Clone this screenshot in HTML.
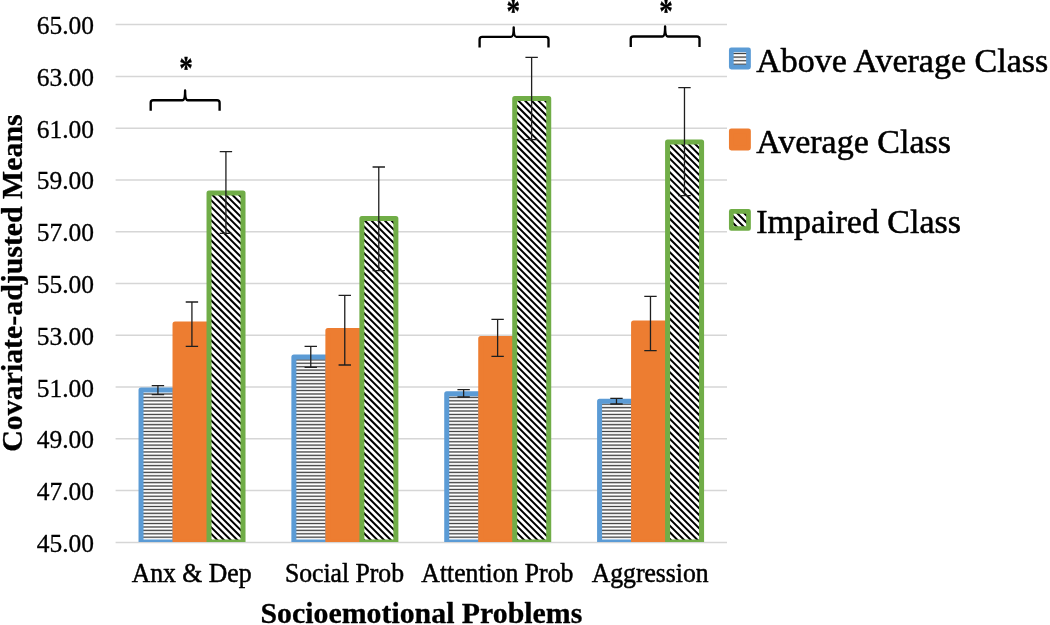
<!DOCTYPE html>
<html lang="en"><head><meta charset="utf-8"><title>Socioemotional Problems by Class</title>
<style>
html,body{margin:0;padding:0;background:#fff;}
body{width:1050px;height:625px;overflow:hidden;position:relative;}
svg{position:absolute;left:0;top:0;display:block;}
text{font-family:"Liberation Serif",serif;fill:#000;stroke:#000;stroke-width:0.3px;stroke-linejoin:round;}
.tick{font-size:25.5px;stroke-width:0.5px;}
.cat{font-size:25.7px;text-anchor:middle;stroke-width:0.5px;}
.ttl{font-size:29.85px;font-weight:bold;text-anchor:middle;}
.leg{font-size:34px;stroke-width:0.55px;}
.ast{font-size:28px;font-weight:bold;text-anchor:middle;}
.err{stroke:#1f1f1f;stroke-width:1.3;fill:none;}
.brace{stroke:#000;stroke-width:2.35;fill:none;stroke-linecap:butt;stroke-linejoin:round;}
.hz{stroke:#444;stroke-width:1;fill:none;}.hz2{stroke:#000;stroke-opacity:0.22;stroke-width:2.1;fill:none;}
.dg{stroke:#000;stroke-width:2;fill:none;}
</style></head><body>
<svg width="1050" height="625" viewBox="0 0 1050 625">
<defs>
<clipPath id="plot"><rect x="100" y="0" width="640" height="541.9"/></clipPath>
<clipPath id="c1"><rect x="141.02" y="390" width="34" height="152"/></clipPath>
<clipPath id="c2"><rect x="209.02" y="193.1" width="34" height="348.9"/></clipPath>
<clipPath id="c3"><rect x="293.88" y="357.1" width="34" height="184.9"/></clipPath>
<clipPath id="c4"><rect x="361.88" y="218.5" width="34" height="323.5"/></clipPath>
<clipPath id="c5"><rect x="446.73" y="393.7" width="34" height="148.3"/></clipPath>
<clipPath id="c6"><rect x="514.73" y="98.5" width="34" height="443.5"/></clipPath>
<clipPath id="c7"><rect x="599.58" y="401.3" width="34" height="140.7"/></clipPath>
<clipPath id="c8"><rect x="667.58" y="142.1" width="34" height="399.9"/></clipPath>
<clipPath id="c9"><rect x="731.3" y="211.3" width="17.2" height="17.2"/></clipPath>
</defs>
<rect width="1050" height="625" fill="#fff"/>
<g stroke="#D6D6D6" stroke-width="1.5">
<line x1="115.6" y1="24.6" x2="727" y2="24.6"/>
<line x1="115.6" y1="76.38" x2="727" y2="76.38"/>
<line x1="115.6" y1="128.16" x2="727" y2="128.16"/>
<line x1="115.6" y1="179.94" x2="727" y2="179.94"/>
<line x1="115.6" y1="231.72" x2="727" y2="231.72"/>
<line x1="115.6" y1="283.5" x2="727" y2="283.5"/>
<line x1="115.6" y1="335.28" x2="727" y2="335.28"/>
<line x1="115.6" y1="387.06" x2="727" y2="387.06"/>
<line x1="115.6" y1="438.84" x2="727" y2="438.84"/>
<line x1="115.6" y1="490.62" x2="727" y2="490.62"/>
<line x1="115.6" y1="542.4" x2="727" y2="542.4"/>
</g>
<g class="tick" text-anchor="end">
<text transform="translate(94 34.1) scale(1 1.025)">65.00</text>
<text transform="translate(94 85.88) scale(1 1.025)">63.00</text>
<text transform="translate(94 137.66) scale(1 1.025)">61.00</text>
<text transform="translate(94 189.44) scale(1 1.025)">59.00</text>
<text transform="translate(94 241.22) scale(1 1.025)">57.00</text>
<text transform="translate(94 293) scale(1 1.025)">55.00</text>
<text transform="translate(94 344.78) scale(1 1.025)">53.00</text>
<text transform="translate(94 396.56) scale(1 1.025)">51.00</text>
<text transform="translate(94 448.34) scale(1 1.025)">49.00</text>
<text transform="translate(94 500.12) scale(1 1.025)">47.00</text>
<text transform="translate(94 551.9) scale(1 1.025)">45.00</text>
</g>
<g clip-path="url(#plot)">
<g>
<rect x="141.02" y="390" width="34" height="152" fill="#fff"/>
<path class="hz2" d="M141.02 393.98H175.02M141.02 397.39H175.02M141.02 400.8H175.02M141.02 404.21H175.02M141.02 407.62H175.02M141.02 411.03H175.02M141.02 414.44H175.02M141.02 417.85H175.02M141.02 421.26H175.02M141.02 424.67H175.02M141.02 428.08H175.02M141.02 431.49H175.02M141.02 434.9H175.02M141.02 438.31H175.02M141.02 441.72H175.02M141.02 445.13H175.02M141.02 448.54H175.02M141.02 451.95H175.02M141.02 455.36H175.02M141.02 458.77H175.02M141.02 462.18H175.02M141.02 465.59H175.02M141.02 469H175.02M141.02 472.41H175.02M141.02 475.82H175.02M141.02 479.23H175.02M141.02 482.64H175.02M141.02 486.05H175.02M141.02 489.46H175.02M141.02 492.87H175.02M141.02 496.28H175.02M141.02 499.69H175.02M141.02 503.1H175.02M141.02 506.51H175.02M141.02 509.92H175.02M141.02 513.33H175.02M141.02 516.74H175.02M141.02 520.15H175.02M141.02 523.56H175.02M141.02 526.97H175.02M141.02 530.38H175.02M141.02 533.79H175.02M141.02 537.2H175.02"/>
<path class="hz" d="M141.02 393.98H175.02M141.02 397.39H175.02M141.02 400.8H175.02M141.02 404.21H175.02M141.02 407.62H175.02M141.02 411.03H175.02M141.02 414.44H175.02M141.02 417.85H175.02M141.02 421.26H175.02M141.02 424.67H175.02M141.02 428.08H175.02M141.02 431.49H175.02M141.02 434.9H175.02M141.02 438.31H175.02M141.02 441.72H175.02M141.02 445.13H175.02M141.02 448.54H175.02M141.02 451.95H175.02M141.02 455.36H175.02M141.02 458.77H175.02M141.02 462.18H175.02M141.02 465.59H175.02M141.02 469H175.02M141.02 472.41H175.02M141.02 475.82H175.02M141.02 479.23H175.02M141.02 482.64H175.02M141.02 486.05H175.02M141.02 489.46H175.02M141.02 492.87H175.02M141.02 496.28H175.02M141.02 499.69H175.02M141.02 503.1H175.02M141.02 506.51H175.02M141.02 509.92H175.02M141.02 513.33H175.02M141.02 516.74H175.02M141.02 520.15H175.02M141.02 523.56H175.02M141.02 526.97H175.02M141.02 530.38H175.02M141.02 533.79H175.02M141.02 537.2H175.02"/>
<rect x="141.02" y="390" width="34" height="152" fill="none" stroke="#5B9BD5" stroke-width="5" stroke-linejoin="round"/>
<rect x="175.02" y="324.1" width="34" height="217.9" fill="#ED7D31"/>
<rect x="175.02" y="324.1" width="34" height="217.9" fill="none" stroke="#ED7D31" stroke-width="5" stroke-linejoin="round"/>
<rect x="209.02" y="193.1" width="34" height="348.9" fill="#fff"/>
<path class="dg" clip-path="url(#c2)" d="M207.02 156.2L245.02 194.2M207.02 162.88L245.02 200.88M207.02 169.54L245.02 207.54M207.02 176.22L245.02 214.22M207.02 182.88L245.02 220.88M207.02 189.55L245.02 227.55M207.02 196.22L245.02 234.22M207.02 202.89L245.02 240.89M207.02 209.56L245.02 247.56M207.02 216.23L245.02 254.23M207.02 222.91L245.02 260.9M207.02 229.57L245.02 267.57M207.02 236.25L245.02 274.25M207.02 242.91L245.02 280.91M207.02 249.58L245.02 287.58M207.02 256.25L245.02 294.25M207.02 262.92L245.02 300.92M207.02 269.59L245.02 307.59M207.02 276.26L245.02 314.26M207.02 282.94L245.02 320.94M207.02 289.61L245.02 327.61M207.02 296.27L245.02 334.27M207.02 302.94L245.02 340.94M207.02 309.62L245.02 347.62M207.02 316.28L245.02 354.28M207.02 322.95L245.02 360.95M207.02 329.62L245.02 367.62M207.02 336.29L245.02 374.29M207.02 342.96L245.02 380.96M207.02 349.63L245.02 387.63M207.02 356.31L245.02 394.31M207.02 362.98L245.02 400.98M207.02 369.64L245.02 407.64M207.02 376.31L245.02 414.31M207.02 382.99L245.02 420.99M207.02 389.65L245.02 427.65M207.02 396.32L245.02 434.32M207.02 403L245.02 441M207.02 409.66L245.02 447.66M207.02 416.33L245.02 454.33M207.02 423L245.02 461M207.02 429.67L245.02 467.67M207.02 436.34L245.02 474.34M207.02 443.01L245.02 481.01M207.02 449.69L245.02 487.69M207.02 456.36L245.02 494.36M207.02 463.02L245.02 501.02M207.02 469.69L245.02 507.69M207.02 476.37L245.02 514.37M207.02 483.03L245.02 521.03M207.02 489.7L245.02 527.7M207.02 496.38L245.02 534.38M207.02 503.04L245.02 541.04M207.02 509.71L245.02 547.71M207.02 516.38L245.02 554.38M207.02 523.06L245.02 561.06M207.02 529.73L245.02 567.73M207.02 536.39L245.02 574.39M207.02 543.07L245.02 581.07"/>
<rect x="209.02" y="193.1" width="34" height="348.9" fill="none" stroke="#70AD47" stroke-width="5" stroke-linejoin="round"/>
</g>
<g>
<rect x="293.88" y="357.1" width="34" height="184.9" fill="#fff"/>
<path class="hz2" d="M293.88 359.88H327.88M293.88 363.29H327.88M293.88 366.7H327.88M293.88 370.11H327.88M293.88 373.52H327.88M293.88 376.93H327.88M293.88 380.34H327.88M293.88 383.75H327.88M293.88 387.16H327.88M293.88 390.57H327.88M293.88 393.98H327.88M293.88 397.39H327.88M293.88 400.8H327.88M293.88 404.21H327.88M293.88 407.62H327.88M293.88 411.03H327.88M293.88 414.44H327.88M293.88 417.85H327.88M293.88 421.26H327.88M293.88 424.67H327.88M293.88 428.08H327.88M293.88 431.49H327.88M293.88 434.9H327.88M293.88 438.31H327.88M293.88 441.72H327.88M293.88 445.13H327.88M293.88 448.54H327.88M293.88 451.95H327.88M293.88 455.36H327.88M293.88 458.77H327.88M293.88 462.18H327.88M293.88 465.59H327.88M293.88 469H327.88M293.88 472.41H327.88M293.88 475.82H327.88M293.88 479.23H327.88M293.88 482.64H327.88M293.88 486.05H327.88M293.88 489.46H327.88M293.88 492.87H327.88M293.88 496.28H327.88M293.88 499.69H327.88M293.88 503.1H327.88M293.88 506.51H327.88M293.88 509.92H327.88M293.88 513.33H327.88M293.88 516.74H327.88M293.88 520.15H327.88M293.88 523.56H327.88M293.88 526.97H327.88M293.88 530.38H327.88M293.88 533.79H327.88M293.88 537.2H327.88"/>
<path class="hz" d="M293.88 359.88H327.88M293.88 363.29H327.88M293.88 366.7H327.88M293.88 370.11H327.88M293.88 373.52H327.88M293.88 376.93H327.88M293.88 380.34H327.88M293.88 383.75H327.88M293.88 387.16H327.88M293.88 390.57H327.88M293.88 393.98H327.88M293.88 397.39H327.88M293.88 400.8H327.88M293.88 404.21H327.88M293.88 407.62H327.88M293.88 411.03H327.88M293.88 414.44H327.88M293.88 417.85H327.88M293.88 421.26H327.88M293.88 424.67H327.88M293.88 428.08H327.88M293.88 431.49H327.88M293.88 434.9H327.88M293.88 438.31H327.88M293.88 441.72H327.88M293.88 445.13H327.88M293.88 448.54H327.88M293.88 451.95H327.88M293.88 455.36H327.88M293.88 458.77H327.88M293.88 462.18H327.88M293.88 465.59H327.88M293.88 469H327.88M293.88 472.41H327.88M293.88 475.82H327.88M293.88 479.23H327.88M293.88 482.64H327.88M293.88 486.05H327.88M293.88 489.46H327.88M293.88 492.87H327.88M293.88 496.28H327.88M293.88 499.69H327.88M293.88 503.1H327.88M293.88 506.51H327.88M293.88 509.92H327.88M293.88 513.33H327.88M293.88 516.74H327.88M293.88 520.15H327.88M293.88 523.56H327.88M293.88 526.97H327.88M293.88 530.38H327.88M293.88 533.79H327.88M293.88 537.2H327.88"/>
<rect x="293.88" y="357.1" width="34" height="184.9" fill="none" stroke="#5B9BD5" stroke-width="5" stroke-linejoin="round"/>
<rect x="327.88" y="330.6" width="34" height="211.4" fill="#ED7D31"/>
<rect x="327.88" y="330.6" width="34" height="211.4" fill="none" stroke="#ED7D31" stroke-width="5" stroke-linejoin="round"/>
<rect x="361.88" y="218.5" width="34" height="323.5" fill="#fff"/>
<path class="dg" clip-path="url(#c4)" d="M359.88 182.32L397.88 220.32M359.88 189L397.88 227M359.88 195.67L397.88 233.67M359.88 202.34L397.88 240.34M359.88 209L397.88 247M359.88 215.68L397.88 253.68M359.88 222.35L397.88 260.35M359.88 229.02L397.88 267.02M359.88 235.69L397.88 273.69M359.88 242.36L397.88 280.36M359.88 249.03L397.88 287.03M359.88 255.69L397.88 293.69M359.88 262.37L397.88 300.37M359.88 269.04L397.88 307.04M359.88 275.71L397.88 313.71M359.88 282.38L397.88 320.38M359.88 289.05L397.88 327.05M359.88 295.72L397.88 333.72M359.88 302.38L397.88 340.38M359.88 309.06L397.88 347.06M359.88 315.73L397.88 353.73M359.88 322.39L397.88 360.39M359.88 329.07L397.88 367.07M359.88 335.74L397.88 373.74M359.88 342.4L397.88 380.4M359.88 349.08L397.88 387.08M359.88 355.75L397.88 393.75M359.88 362.42L397.88 400.42M359.88 369.09L397.88 407.09M359.88 375.75L397.88 413.75M359.88 382.43L397.88 420.43M359.88 389.1L397.88 427.1M359.88 395.76L397.88 433.76M359.88 402.44L397.88 440.44M359.88 409.11L397.88 447.11M359.88 415.77L397.88 453.77M359.88 422.44L397.88 460.44M359.88 429.12L397.88 467.12M359.88 435.79L397.88 473.79M359.88 442.46L397.88 480.46M359.88 449.12L397.88 487.12M359.88 455.8L397.88 493.8M359.88 462.47L397.88 500.47M359.88 469.13L397.88 507.13M359.88 475.81L397.88 513.81M359.88 482.48L397.88 520.48M359.88 489.14L397.88 527.14M359.88 495.81L397.88 533.82M359.88 502.49L397.88 540.49M359.88 509.16L397.88 547.15M359.88 515.83L397.88 553.83M359.88 522.5L397.88 560.5M359.88 529.16L397.88 567.16M359.88 535.84L397.88 573.84M359.88 542.5L397.88 580.5"/>
<rect x="361.88" y="218.5" width="34" height="323.5" fill="none" stroke="#70AD47" stroke-width="5" stroke-linejoin="round"/>
</g>
<g>
<rect x="446.73" y="393.7" width="34" height="148.3" fill="#fff"/>
<path class="hz2" d="M446.73 397.39H480.73M446.73 400.8H480.73M446.73 404.21H480.73M446.73 407.62H480.73M446.73 411.03H480.73M446.73 414.44H480.73M446.73 417.85H480.73M446.73 421.26H480.73M446.73 424.67H480.73M446.73 428.08H480.73M446.73 431.49H480.73M446.73 434.9H480.73M446.73 438.31H480.73M446.73 441.72H480.73M446.73 445.13H480.73M446.73 448.54H480.73M446.73 451.95H480.73M446.73 455.36H480.73M446.73 458.77H480.73M446.73 462.18H480.73M446.73 465.59H480.73M446.73 469H480.73M446.73 472.41H480.73M446.73 475.82H480.73M446.73 479.23H480.73M446.73 482.64H480.73M446.73 486.05H480.73M446.73 489.46H480.73M446.73 492.87H480.73M446.73 496.28H480.73M446.73 499.69H480.73M446.73 503.1H480.73M446.73 506.51H480.73M446.73 509.92H480.73M446.73 513.33H480.73M446.73 516.74H480.73M446.73 520.15H480.73M446.73 523.56H480.73M446.73 526.97H480.73M446.73 530.38H480.73M446.73 533.79H480.73M446.73 537.2H480.73"/>
<path class="hz" d="M446.73 397.39H480.73M446.73 400.8H480.73M446.73 404.21H480.73M446.73 407.62H480.73M446.73 411.03H480.73M446.73 414.44H480.73M446.73 417.85H480.73M446.73 421.26H480.73M446.73 424.67H480.73M446.73 428.08H480.73M446.73 431.49H480.73M446.73 434.9H480.73M446.73 438.31H480.73M446.73 441.72H480.73M446.73 445.13H480.73M446.73 448.54H480.73M446.73 451.95H480.73M446.73 455.36H480.73M446.73 458.77H480.73M446.73 462.18H480.73M446.73 465.59H480.73M446.73 469H480.73M446.73 472.41H480.73M446.73 475.82H480.73M446.73 479.23H480.73M446.73 482.64H480.73M446.73 486.05H480.73M446.73 489.46H480.73M446.73 492.87H480.73M446.73 496.28H480.73M446.73 499.69H480.73M446.73 503.1H480.73M446.73 506.51H480.73M446.73 509.92H480.73M446.73 513.33H480.73M446.73 516.74H480.73M446.73 520.15H480.73M446.73 523.56H480.73M446.73 526.97H480.73M446.73 530.38H480.73M446.73 533.79H480.73M446.73 537.2H480.73"/>
<rect x="446.73" y="393.7" width="34" height="148.3" fill="none" stroke="#5B9BD5" stroke-width="5" stroke-linejoin="round"/>
<rect x="480.73" y="338.4" width="34" height="203.6" fill="#ED7D31"/>
<rect x="480.73" y="338.4" width="34" height="203.6" fill="none" stroke="#ED7D31" stroke-width="5" stroke-linejoin="round"/>
<rect x="514.73" y="98.5" width="34" height="443.5" fill="#fff"/>
<path class="dg" clip-path="url(#c6)" d="M512.73 61.71L550.73 99.71M512.73 68.38L550.73 106.38M512.73 75.05L550.73 113.05M512.73 81.72L550.73 119.72M512.73 88.39L550.73 126.39M512.73 95.06L550.73 133.06M512.73 101.73L550.73 139.73M512.73 108.4L550.73 146.4M512.73 115.06L550.73 153.06M512.73 121.74L550.73 159.74M512.73 128.41L550.73 166.41M512.73 135.07L550.73 173.07M512.73 141.75L550.73 179.75M512.73 148.42L550.73 186.42M512.73 155.09L550.73 193.09M512.73 161.76L550.73 199.76M512.73 168.43L550.73 206.43M512.73 175.1L550.73 213.1M512.73 181.77L550.73 219.77M512.73 188.44L550.73 226.44M512.73 195.11L550.73 233.11M512.73 201.78L550.73 239.78M512.73 208.45L550.73 246.45M512.73 215.12L550.73 253.12M512.73 221.79L550.73 259.79M512.73 228.46L550.73 266.46M512.73 235.13L550.73 273.13M512.73 241.8L550.73 279.8M512.73 248.47L550.73 286.47M512.73 255.14L550.73 293.14M512.73 261.81L550.73 299.81M512.73 268.48L550.73 306.48M512.73 275.15L550.73 313.15M512.73 281.82L550.73 319.82M512.73 288.49L550.73 326.49M512.73 295.16L550.73 333.16M512.73 301.83L550.73 339.83M512.73 308.5L550.73 346.5M512.73 315.17L550.73 353.17M512.73 321.84L550.73 359.84M512.73 328.51L550.73 366.51M512.73 335.18L550.73 373.18M512.73 341.85L550.73 379.85M512.73 348.52L550.73 386.52M512.73 355.19L550.73 393.19M512.73 361.86L550.73 399.86M512.73 368.53L550.73 406.53M512.73 375.2L550.73 413.2M512.73 381.87L550.73 419.87M512.73 388.54L550.73 426.54M512.73 395.21L550.73 433.21M512.73 401.88L550.73 439.88M512.73 408.55L550.73 446.55M512.73 415.22L550.73 453.22M512.73 421.89L550.73 459.89M512.73 428.56L550.73 466.56M512.73 435.23L550.73 473.23M512.73 441.9L550.73 479.9M512.73 448.57L550.73 486.57M512.73 455.24L550.73 493.24M512.73 461.91L550.73 499.91M512.73 468.58L550.73 506.58M512.73 475.25L550.73 513.25M512.73 481.92L550.73 519.92M512.73 488.59L550.73 526.59M512.73 495.25L550.73 533.25M512.73 501.93L550.73 539.93M512.73 508.6L550.73 546.6M512.73 515.27L550.73 553.27M512.73 521.94L550.73 559.94M512.73 528.61L550.73 566.61M512.73 535.28L550.73 573.28M512.73 541.95L550.73 579.95"/>
<rect x="514.73" y="98.5" width="34" height="443.5" fill="none" stroke="#70AD47" stroke-width="5" stroke-linejoin="round"/>
</g>
<g>
<rect x="599.58" y="401.3" width="34" height="140.7" fill="#fff"/>
<path class="hz2" d="M599.58 404.21H633.58M599.58 407.62H633.58M599.58 411.03H633.58M599.58 414.44H633.58M599.58 417.85H633.58M599.58 421.26H633.58M599.58 424.67H633.58M599.58 428.08H633.58M599.58 431.49H633.58M599.58 434.9H633.58M599.58 438.31H633.58M599.58 441.72H633.58M599.58 445.13H633.58M599.58 448.54H633.58M599.58 451.95H633.58M599.58 455.36H633.58M599.58 458.77H633.58M599.58 462.18H633.58M599.58 465.59H633.58M599.58 469H633.58M599.58 472.41H633.58M599.58 475.82H633.58M599.58 479.23H633.58M599.58 482.64H633.58M599.58 486.05H633.58M599.58 489.46H633.58M599.58 492.87H633.58M599.58 496.28H633.58M599.58 499.69H633.58M599.58 503.1H633.58M599.58 506.51H633.58M599.58 509.92H633.58M599.58 513.33H633.58M599.58 516.74H633.58M599.58 520.15H633.58M599.58 523.56H633.58M599.58 526.97H633.58M599.58 530.38H633.58M599.58 533.79H633.58M599.58 537.2H633.58"/>
<path class="hz" d="M599.58 404.21H633.58M599.58 407.62H633.58M599.58 411.03H633.58M599.58 414.44H633.58M599.58 417.85H633.58M599.58 421.26H633.58M599.58 424.67H633.58M599.58 428.08H633.58M599.58 431.49H633.58M599.58 434.9H633.58M599.58 438.31H633.58M599.58 441.72H633.58M599.58 445.13H633.58M599.58 448.54H633.58M599.58 451.95H633.58M599.58 455.36H633.58M599.58 458.77H633.58M599.58 462.18H633.58M599.58 465.59H633.58M599.58 469H633.58M599.58 472.41H633.58M599.58 475.82H633.58M599.58 479.23H633.58M599.58 482.64H633.58M599.58 486.05H633.58M599.58 489.46H633.58M599.58 492.87H633.58M599.58 496.28H633.58M599.58 499.69H633.58M599.58 503.1H633.58M599.58 506.51H633.58M599.58 509.92H633.58M599.58 513.33H633.58M599.58 516.74H633.58M599.58 520.15H633.58M599.58 523.56H633.58M599.58 526.97H633.58M599.58 530.38H633.58M599.58 533.79H633.58M599.58 537.2H633.58"/>
<rect x="599.58" y="401.3" width="34" height="140.7" fill="none" stroke="#5B9BD5" stroke-width="5" stroke-linejoin="round"/>
<rect x="633.58" y="323.1" width="34" height="218.9" fill="#ED7D31"/>
<rect x="633.58" y="323.1" width="34" height="218.9" fill="none" stroke="#ED7D31" stroke-width="5" stroke-linejoin="round"/>
<rect x="667.58" y="142.1" width="34" height="399.9" fill="#fff"/>
<path class="dg" clip-path="url(#c8)" d="M665.58 101.16L703.58 139.16M665.58 107.84L703.58 145.84M665.58 114.51L703.58 152.51M665.58 121.17L703.58 159.17M665.58 127.85L703.58 165.85M665.58 134.52L703.58 172.52M665.58 141.19L703.58 179.19M665.58 147.86L703.58 185.86M665.58 154.53L703.58 192.53M665.58 161.2L703.58 199.2M665.58 167.87L703.58 205.87M665.58 174.54L703.58 212.54M665.58 181.21L703.58 219.21M665.58 187.88L703.58 225.88M665.58 194.55L703.58 232.55M665.58 201.22L703.58 239.22M665.58 207.89L703.58 245.89M665.58 214.56L703.58 252.56M665.58 221.23L703.58 259.23M665.58 227.9L703.58 265.9M665.58 234.57L703.58 272.57M665.58 241.24L703.58 279.24M665.58 247.91L703.58 285.91M665.58 254.58L703.58 292.58M665.58 261.25L703.58 299.25M665.58 267.92L703.58 305.92M665.58 274.59L703.58 312.59M665.58 281.26L703.58 319.26M665.58 287.93L703.58 325.93M665.58 294.6L703.58 332.6M665.58 301.27L703.58 339.27M665.58 307.94L703.58 345.94M665.58 314.61L703.58 352.61M665.58 321.28L703.58 359.28M665.58 327.95L703.58 365.95M665.58 334.62L703.58 372.62M665.58 341.29L703.58 379.29M665.58 347.96L703.58 385.96M665.58 354.63L703.58 392.63M665.58 361.3L703.58 399.3M665.58 367.97L703.58 405.97M665.58 374.64L703.58 412.64M665.58 381.31L703.58 419.31M665.58 387.98L703.58 425.98M665.58 394.65L703.58 432.65M665.58 401.32L703.58 439.32M665.58 407.99L703.58 445.99M665.58 414.66L703.58 452.66M665.58 421.33L703.58 459.33M665.58 428L703.58 466M665.58 434.67L703.58 472.67M665.58 441.34L703.58 479.34M665.58 448.01L703.58 486.01M665.58 454.68L703.58 492.68M665.58 461.35L703.58 499.35M665.58 468.02L703.58 506.02M665.58 474.69L703.58 512.69M665.58 481.36L703.58 519.36M665.58 488.03L703.58 526.03M665.58 494.7L703.58 532.7M665.58 501.37L703.58 539.37M665.58 508.04L703.58 546.04M665.58 514.71L703.58 552.71M665.58 521.38L703.58 559.38M665.58 528.05L703.58 566.05M665.58 534.72L703.58 572.72M665.58 541.38L703.58 579.38"/>
<rect x="667.58" y="142.1" width="34" height="399.9" fill="none" stroke="#70AD47" stroke-width="5" stroke-linejoin="round"/>
</g>
</g>
<g class="err">
<path d="M151.72 385.6H164.12M157.92 385.6V394.7M151.72 394.7H164.12"/>
<path d="M185.72 302H198.12M191.92 302V346.4M185.72 346.4H198.12"/>
<path d="M219.72 151.6H232.12M225.92 151.6V233.4M219.72 233.4H232.12"/>
<path d="M304.57 346.4H316.97M310.77 346.4V367.4M304.57 367.4H316.97"/>
<path d="M338.57 295.4H350.97M344.77 295.4V365M338.57 365H350.97"/>
<path d="M372.57 167H384.97M378.77 167V270.6M372.57 270.6H384.97"/>
<path d="M457.43 389.6H469.82M463.62 389.6V397M457.43 397H469.82"/>
<path d="M491.43 319.4H503.82M497.62 319.4V356.4M491.43 356.4H503.82"/>
<path d="M525.42 57.4H537.83M531.62 57.4V139.7M525.42 139.7H537.83"/>
<path d="M610.27 398.4H622.68M616.48 398.4V404M610.27 404H622.68"/>
<path d="M644.27 296.4H656.68M650.48 296.4V350.6M644.27 350.6H656.68"/>
<path d="M678.27 87.6H690.68M684.48 87.6V195.6M678.27 195.6H690.68"/>
</g>
<path class="brace" d="M150.7 110.7 V102.8 Q150.7 100.2 153.3 100.2 H182.5 Q185.1 100.2 185.1 90.4 Q185.1 100.2 187.7 100.2 H217 Q219.6 100.2 219.6 102.8 V110.7"/>
<path class="brace" d="M479.6 47.5 V39.5 Q479.6 36.9 482.2 36.9 H511.1 Q513.7 36.9 513.7 27.3 Q513.7 36.9 516.3 36.9 H545.9 Q548.5 36.9 548.5 39.5 V47.5"/>
<path class="brace" d="M630.75 47 V39.1 Q630.75 36.5 633.35 36.5 H662.5 Q665.1 36.5 665.1 26.3 Q665.1 36.5 667.7 36.5 H696.9 Q699.5 36.5 699.5 39.1 V47"/>
<text class="ast" transform="translate(185.8 63.35) scale(0.97 1.2)" x="0.3" y="12.95">*</text>
<text class="ast" transform="translate(512.9 6.25) scale(0.97 1.2)" x="0.3" y="12.95">*</text>
<text class="ast" transform="translate(665.8 6.25) scale(0.97 1.2)" x="0.3" y="12.95">*</text>
<text class="cat" transform="translate(191.62 581.7) scale(1 1.025)">Anx &amp; Dep</text>
<text class="cat" transform="translate(344.48 581.7) scale(1 1.025)">Social Prob</text>
<text class="cat" transform="translate(497.33 581.7) scale(1 1.025)">Attention Prob</text>
<text class="cat" transform="translate(650.18 581.7) scale(1 1.025)">Aggression</text>
<text class="ttl" transform="translate(421.4 623.1) scale(1 1.01)">Socioemotional Problems</text>
<text class="ttl" transform="translate(21.8 283) rotate(-90) scale(1 1.0)">Covariate-adjusted Means</text>
<rect x="731.3" y="49.9" width="17.2" height="17.2" fill="#fff"/>
<path class="hz2" d="M731.3 53.5H748.5M731.3 57.1H748.5M731.3 60.7H748.5M731.3 64.3H748.5"/>
<path class="hz" d="M731.3 53.5H748.5M731.3 57.1H748.5M731.3 60.7H748.5M731.3 64.3H748.5"/>
<rect x="731.3" y="49.9" width="17.2" height="17.2" fill="none" stroke="#5B9BD5" stroke-width="4.7" stroke-linejoin="round"/>
<text class="leg" transform="translate(756.2 71.9) scale(1 0.985)">Above Average Class</text>
<rect x="731.3" y="130.85" width="17.2" height="17.2" fill="#ED7D31"/>
<rect x="731.3" y="130.85" width="17.2" height="17.2" fill="none" stroke="#ED7D31" stroke-width="4.7" stroke-linejoin="round"/>
<text class="leg" transform="translate(756.2 152.5) scale(1 0.985)">Average Class</text>
<rect x="731.3" y="211.3" width="17.2" height="17.2" fill="#fff"/>
<path class="dg" clip-path="url(#c9)" d="M729.3 191.3L750.5 212.5M729.3 198.3L750.5 219.5M729.3 205.3L750.5 226.5M729.3 212.3L750.5 233.5M729.3 219.3L750.5 240.5M729.3 226.3L750.5 247.5M729.3 233.3L750.5 254.5"/>
<rect x="731.3" y="211.3" width="17.2" height="17.2" fill="none" stroke="#70AD47" stroke-width="4.7" stroke-linejoin="round"/>
<text class="leg" transform="translate(756.2 233.4) scale(1 0.985)">Impaired Class</text>
</svg>
</body></html>
